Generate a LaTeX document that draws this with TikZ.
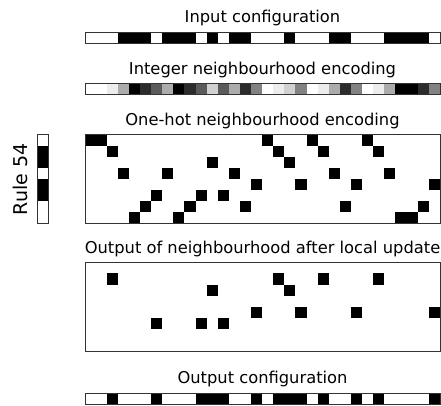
\documentclass[tikz,border=0pt]{standalone}
\usepackage{fontspec}
\setmainfont{DejaVu Sans}
\usetikzlibrary{positioning}

% grey levels of the neighbourhood values 0..7
\definecolor{nb0}{HTML}{FFFFFF}
\definecolor{nb1}{HTML}{EDEDED}
\definecolor{nb2}{HTML}{D1D1D1}
\definecolor{nb3}{HTML}{ACACAC}
\definecolor{nb4}{HTML}{828282}
\definecolor{nb5}{HTML}{5B5B5B}
\definecolor{nb6}{HTML}{2C2C2C}
\definecolor{nb7}{HTML}{000000}

\begin{document}
\begin{tikzpicture}[x=1pt, y=-1pt, node distance=9pt]
        \tikzset{
            % Define style for titles
            titel/.style={
                    font=\fontsize{16.3}{19}\selectfont,
                    anchor=base,
                    inner sep=0pt},
            % Define style for strips and grids
            band/.style={
                    rectangle,
                    draw=black!80, line width=0.8pt,
                    minimum width=355.2pt,
                    minimum height=11.1pt,
                    inner sep=0pt,
                    anchor=north west},
            % Define style for a filled cell
            cell/.style={fill=black},
        }
        \useasboundingbox (0,0) rectangle (441,406);
        \def\w{11.1}

        % Input configuration
        \foreach \i in {3,4,5,7,8,9,11,13,14,18,22,23,27,28,29,30}
            \fill[cell] (84.5+\i*\w, 32) rectangle ++(\w, \w);
        \node[band] (inp) at (84.5, 32) {};
        \node[above=of inp, titel] (inptxt) {Input configuration};

        % Integer neighbourhood encoding
        \foreach \v [count=\i from 0] in {0,0,1,3,7,6,5,3,7,6,5,2,5,3,6,4,0,1,2,4,0,1,3,6,4,0,1,3,7,7,6,4}
            \fill[nb\v] (84.5+\i*\w, 83.3) rectangle ++(\w, \w);
        \node[band] (nbint) at (84.5, 83.3) {};
        \node[above=of nbint, titel] (nbinttxt) {Integer neighbourhood encoding};

        % One-hot neighbourhood encoding
        \foreach \v [count=\i from 0] in {0,0,1,3,7,6,5,3,7,6,5,2,5,3,6,4,0,1,2,4,0,1,3,6,4,0,1,3,7,7,6,4}
            \fill[cell] (84.5+\i*\w, 134.5+\v*\w) rectangle ++(\w, \w);
        \node[band, minimum height=88.8pt] (onehot) at (84.5, 134.5) {};
        \node[above=of onehot, titel] (onehottxt) {One-hot neighbourhood encoding};

        % Rule column
        \foreach \r in {1,2,4,5}
            \fill[cell] (37.3, 134.5+\r*\w) rectangle ++(\w, \w);
        \node[band, minimum width=11.1pt, minimum height=88.8pt] (rule) at (37.3, 134.5) {};
        \node[left=9pt of rule, rotate=90, anchor=south, inner sep=0pt,
              font=\fontsize{19}{22}\selectfont] (ruletxt) {Rule 54};

        % Output of neighbourhood after local update
        \foreach \i/\v in {2/1,6/5,10/5,11/2,12/5,15/4,17/1,18/2,19/4,21/1,24/4,26/1,31/4}
            \fill[cell] (84.5+\i*\w, 262.3+\v*\w) rectangle ++(\w, \w);
        \node[band, minimum height=88.8pt] (update) at (84.5, 262.3) {};
        \node[above=of update, titel] (updatetxt) {Output of neighbourhood after local update};

        % Output configuration
        \foreach \i in {2,6,10,11,12,15,17,18,19,21,24,26,31}
            \fill[cell] (84.5+\i*\w, 392.5) rectangle ++(\w, \w);
        \node[band] (outp) at (84.5, 392.5) {};
        \node[above=of outp, titel] (outptxt) {Output configuration};

    \end{tikzpicture}
\end{document}
